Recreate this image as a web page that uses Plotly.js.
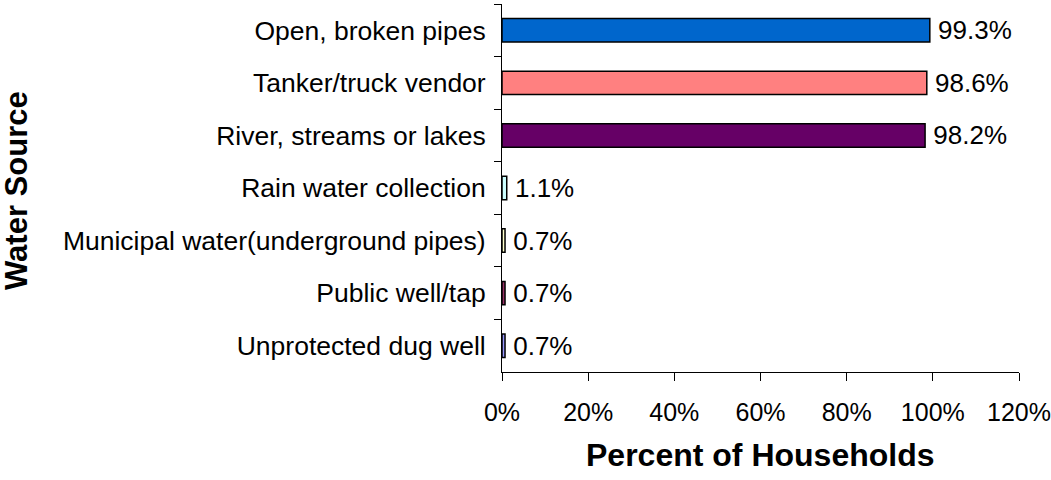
<!DOCTYPE html>
<html>
<head>
<meta charset="utf-8">
<script src="https://cdn.plot.ly/plotly-3.0.1.min.js"></script>
<style>html,body{margin:0;padding:0;background:#fff;}#chart{width:1051px;height:480px;}</style>
</head>
<body>
<div id="chart"></div>
<script>
// Categories listed top to bottom
const sources = [
  "Open, broken pipes",
  "Tanker/truck vendor",
  "River, streams or lakes",
  "Rain water collection",
  "Municipal water(underground pipes)",
  "Public well/tap",
  "Unprotected dug well"
];
const percentHouseholds = [99.3, 98.6, 98.2, 1.1, 0.7, 0.7, 0.7];
const xTickValues = [0, 20, 40, 60, 80, 100, 120];
const xTickLabels = ["0%", "20%", "40%", "60%", "80%", "100%", "120%"];
const xTitle = "Percent of Households";
const yTitle = "Water Source";

const barColors = ["#0066CC", "#FF8080", "#660066", "#CCFFFF", "#FFFFCC", "#993366", "#9999FF"];
const FONT = "Liberation Sans, Arial, sans-serif";

const trace = {
  type: "bar",
  orientation: "h",
  x: percentHouseholds,
  y: sources,
  marker: { color: barColors, line: { color: "#000000", width: 1.5 } },
  texttemplate: "\u2009%{x:.1f}%",
  textposition: "outside",
  constraintext: "none",
  cliponaxis: false,
  textfont: { family: FONT, size: 26, color: "#000000" },
  hoverinfo: "none"
};

const layout = {
  width: 1051,
  height: 480,
  margin: { l: 502, r: 32, t: 4, b: 108 },
  paper_bgcolor: "#ffffff",
  plot_bgcolor: "#ffffff",
  showlegend: false,
  bargap: 0.555,
  font: { family: FONT, size: 26, color: "#000000" },
  xaxis: {
    range: [0, 120],
    tickvals: xTickValues,
    ticktext: xTickLabels,
    ticks: "outside",
    ticklen: 8,
    tickcolor: "#000000",
    tickwidth: 1,
    showline: true,
    linecolor: "#000000",
    linewidth: 1,
    showgrid: false,
    zeroline: false,
    ticklabelstandoff: 10,
    ticklabeloverflow: "allow",
    tickfont: { family: FONT, size: 25, color: "#000000" },
    automargin: false
  },
  yaxis: {
    autorange: "reversed",
    ticks: "outside",
    tickson: "boundaries",
    ticklen: 7,
    tickcolor: "#000000",
    tickwidth: 1,
    showline: true,
    linecolor: "#000000",
    linewidth: 1,
    showgrid: false,
    zeroline: false,
    ticklabelstandoff: 10,
    tickfont: { family: FONT, size: 26.5, color: "#000000" },
    automargin: false
  },
  annotations: [
    {
      text: xTitle, xref: "paper", yref: "paper",
      x: 0.5, y: -0.2255, xanchor: "center", yanchor: "middle",
      showarrow: false,
      font: { family: FONT, size: 32, color: "#000000", weight: "bold" }
    },
    {
      text: yTitle, xref: "paper", yref: "paper",
      x: -0.938, y: 0.492, xanchor: "center", yanchor: "middle",
      textangle: -90, showarrow: false,
      font: { family: FONT, size: 31, color: "#000000", weight: "bold" }
    }
  ]
};

Plotly.newPlot("chart", [trace], layout, { staticPlot: true, displayModeBar: false });
</script>
</body>
</html>
